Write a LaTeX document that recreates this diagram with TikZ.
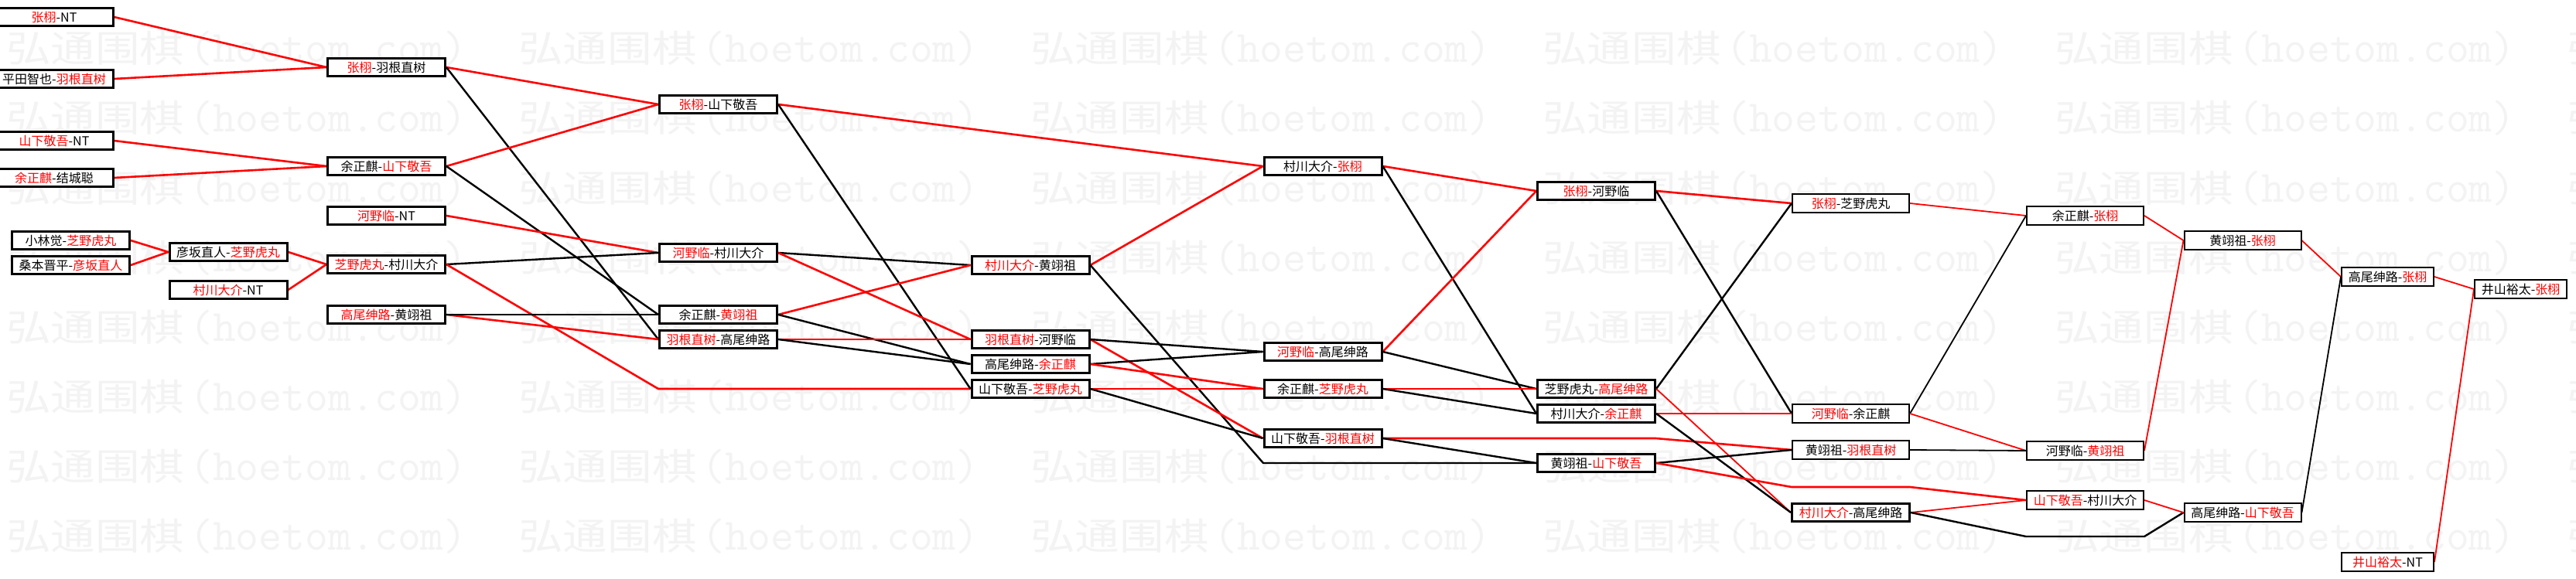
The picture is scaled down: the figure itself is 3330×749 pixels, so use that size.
\documentclass[tikz,border=0pt]{standalone}
\usepackage{fontspec}
\newfontfamily\cjk{Noto Sans CJK SC}
\newfontfamily\wmcjk[FakeStretch=1.2]{Noto Sans CJK SC}
\pgfdeclarelayer{wm}
\pgfdeclarelayer{edges}
\pgfsetlayers{wm,edges,main}
\definecolor{rd}{RGB}{255,0,0}
\definecolor{wmc}{RGB}{243,243,243}
\newcommand{\rn}[1]{\textcolor{rd}{#1}}
\tikzset{
  mbox/.style={draw=black, fill=white, line width=3pt, rectangle, minimum width=152pt,
    minimum height=23pt, inner sep=0pt, font=\cjk\fontsize{16}{16}\selectfont},
  tbox/.style={mbox, line width=2pt, minimum width=151pt, minimum height=24pt},
  sbox/.style={tbox, minimum width=119pt},
  wr/.style={draw=rd, line width=2.6pt},
  wb/.style={draw=black, line width=2.4pt},
  tr/.style={draw=rd, line width=1.8pt},
  tb/.style={draw=black, line width=1.8pt},
  wmcj/.style={anchor=base west, inner sep=0pt, text=wmc, font=\wmcjk\fontsize{48}{48}\selectfont},
  wmas/.style={anchor=base west, inner sep=0pt, text=wmc, font=\ttfamily\fontsize{58}{58}\selectfont},
}
\begin{document}
\begin{tikzpicture}[x=1pt,y=-1pt]
\useasboundingbox (0,0) rectangle (3330,749);
\begin{pgfonlayer}{wm}
\fill[white] (0,0) rectangle (3330,749);
\foreach \r in {0,...,7}{
  \foreach \c in {0,...,5}{
    \node[wmcj] (wa-\r-\c) at ({8+662*\c},{81+90*\r}) {弘通围棋};
    \node[wmas] (wb-\r-\c) at ({245+662*\c},{81+90*\r}) {(hoetom.com)};
  }
}
\end{pgfonlayer}

% column 0
\node[mbox] (a1) at (70,22) {\rn{张栩}-NT};
\node[mbox] (a2) at (70,102) {平田智也-\rn{羽根直树}};
\node[mbox] (a3) at (70,182) {\rn{山下敬吾}-NT};
\node[mbox] (a4) at (70,230) {\rn{余正麒}-结城聪};
% column 1
\node[mbox] (b1) at (91.5,311) {小林觉-\rn{芝野虎丸}};
\node[mbox] (b2) at (91.5,343) {桑本晋平-\rn{彦坂直人}};
\node[mbox] (c1) at (295,326) {彦坂直人-\rn{芝野虎丸}};
\node[mbox] (c2) at (295,375) {\rn{村川大介}-NT};
% column 2
\node[mbox] (d1) at (499.5,87) {\rn{张栩}-羽根直树};
\node[mbox] (d2) at (499.5,215) {余正麒-\rn{山下敬吾}};
\node[mbox] (d3) at (499.5,279) {\rn{河野临}-NT};
\node[mbox] (d4) at (499.5,342) {\rn{芝野虎丸}-村川大介};
\node[mbox] (d5) at (499.5,407) {\rn{高尾绅路}-黄翊祖};
% column 3
\node[mbox] (e1) at (928.5,135) {\rn{张栩}-山下敬吾};
\node[mbox] (e2) at (928.5,327) {\rn{河野临}-村川大介};
\node[mbox] (e3) at (928.5,407) {余正麒-\rn{黄翊祖}};
\node[mbox] (e4) at (928.5,439) {\rn{羽根直树}-高尾绅路};
% column 4
\node[mbox] (f1) at (1332,343) {\rn{村川大介}-黄翊祖};
\node[mbox] (f2) at (1332,439) {\rn{羽根直树}-河野临};
\node[mbox] (f3) at (1332,471) {高尾绅路-\rn{余正麒}};
\node[mbox] (f4) at (1332,503) {山下敬吾-\rn{芝野虎丸}};
% column 5
\node[mbox] (g1) at (1710,215) {村川大介-\rn{张栩}};
\node[mbox] (g2) at (1710,455) {\rn{河野临}-高尾绅路};
\node[mbox] (g3) at (1710,503) {余正麒-\rn{芝野虎丸}};
\node[mbox] (g4) at (1710,567) {山下敬吾-\rn{羽根直树}};
% column 6
\node[mbox] (h1) at (2063.5,247) {\rn{张栩}-河野临};
\node[mbox] (h2) at (2063.5,503) {芝野虎丸-\rn{高尾绅路}};
\node[mbox] (h3) at (2063.5,535) {村川大介-\rn{余正麒}};
\node[mbox] (h4) at (2063.5,599) {黄翊祖-\rn{山下敬吾}};
% column 7
\node[tbox] (i1) at (2392.5,263) {\rn{张栩}-芝野虎丸};
\node[tbox] (i2) at (2392.5,535) {\rn{河野临}-余正麒};
\node[tbox] (i3) at (2392.5,582) {黄翊祖-\rn{羽根直树}};
\node[mbox] (i4) at (2392.5,663) {\rn{村川大介}-高尾绅路};
% column 8
\node[tbox] (j1) at (2695.5,279) {余正麒-\rn{张栩}};
\node[tbox] (j2) at (2695.5,583) {河野临-\rn{黄翊祖}};
\node[tbox] (j3) at (2695.5,647) {\rn{山下敬吾}-村川大介};
% column 9
\node[tbox] (k1) at (2899,311) {黄翊祖-\rn{张栩}};
\node[tbox] (k2) at (2899,663) {高尾绅路-\rn{山下敬吾}};
% column 10
\node[sbox] (l1) at (3086.5,358) {高尾绅路-\rn{张栩}};
\node[sbox] (l2) at (3086.5,727) {\rn{井山裕太}-NT};
% column 11
\node[sbox] (m1) at (3258.5,374) {井山裕太-\rn{张栩}};

% bend points
\coordinate (p1) at (851,503);
\coordinate (p2) at (1633,599);
\coordinate (p3) at (2140,567);
\coordinate (p4) at (2316,630);
\coordinate (p5) at (2469,630);
\coordinate (p6) at (2619,694);
\coordinate (p7) at (2772,694);

\begin{pgfonlayer}{edges}
\draw[wr] (a1.east) -- (d1.west);
\draw[wr] (a2.east) -- (d1.west);
\draw[wr] (a3.east) -- (d2.west);
\draw[wr] (a4.east) -- (d2.west);
\draw[wr] (b1.east) -- (c1.west);
\draw[wr] (b2.east) -- (c1.west);
\draw[wr] (c1.east) -- (d4.west);
\draw[wr] (c2.east) -- (d4.west);
\draw[wr] (d1.east) -- (e1.west);
\draw[wb] (d1.east) -- (e4.west);
\draw[wr] (d2.east) -- (e1.west);
\draw[wb] (d2.east) -- (e3.west);
\draw[wr] (d3.east) -- (e2.west);
\draw[wb] (d4.east) -- (e2.west);
\draw[wr] (d4.east) -- (p1) -- (f4.west);
\draw[wr] (d5.east) -- (e4.west);
\draw[wb] (d5.east) -- (e3.west);
\draw[wr] (e1.east) -- (g1.west);
\draw[wb] (e1.east) -- (f4.west);
\draw[wb] (e2.east) -- (f1.west);
\draw[wr] (e2.east) -- (f2.west);
\draw[wr] (e3.east) -- (f1.west);
\draw[wb] (e3.east) -- (f3.west);
\draw[wr] (e4.east) -- (f2.west);
\draw[wb] (e4.east) -- (f3.west);
\draw[wr] (f1.east) -- (g1.west);
\draw[wb] (f1.east) -- (p2) -- (h4.west);
\draw[wr] (f2.east) -- (g4.west);
\draw[wb] (f2.east) -- (g2.west);
\draw[wb] (f3.east) -- (g2.west);
\draw[wr] (f3.east) -- (g3.west);
\draw[wr] (f4.east) -- (g3.west);
\draw[wb] (f4.east) -- (g4.west);
\draw[wr] (g1.east) -- (h1.west);
\draw[wb] (g1.east) -- (h3.west);
\draw[wr] (g2.east) -- (h1.west);
\draw[wb] (g2.east) -- (h2.west);
\draw[wr] (g3.east) -- (h2.west);
\draw[wb] (g3.east) -- (h3.west);
\draw[wr] (g4.east) -- (p3) -- (i3.west);
\draw[wb] (g4.east) -- (h4.west);
\draw[wr] (h1.east) -- (i1.west);
\draw[wb] (h1.east) -- (i2.west);
\draw[wb] (h2.east) -- (i1.west);
\draw[tr] (h2.east) -- (i4.west);
\draw[wr] (h3.east) -- (i2.west);
\draw[wb] (h3.east) -- (i4.west);
\draw[wb] (h4.east) -- (i3.west);
\draw[wr] (h4.east) -- (p4) -- (p5) -- (j3.west);
\draw[tr] (i1.east) -- (j1.west);
\draw[tb] (i2.east) -- (j1.west);
\draw[tr] (i2.east) -- (j2.west);
\draw[tb] (i3.east) -- (j2.west);
\draw[tr] (i4.east) -- (j3.west);
\draw[wb] (i4.east) -- (p6) -- (p7) -- (k2.west);
\draw[tr] (j1.east) -- (k1.west);
\draw[tr] (j2.east) -- (k1.west);
\draw[tr] (j3.east) -- (k2.west);
\draw[tr] (k1.east) -- (l1.west);
\draw[tb] (k2.east) -- (l1.west);
\draw[tr] (l1.east) -- (m1.west);
\draw[tr] (l2.east) -- (m1.west);
\end{pgfonlayer}
\end{tikzpicture}
\end{document}
